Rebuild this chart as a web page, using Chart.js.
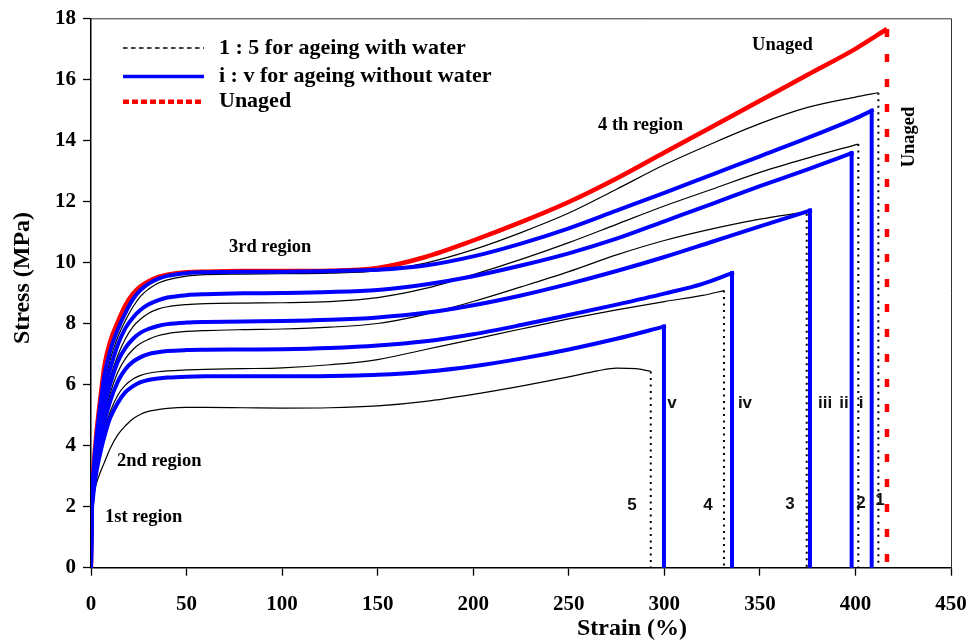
<!DOCTYPE html>
<html>
<head>
<meta charset="utf-8">
<script src="https://cdn.jsdelivr.net/npm/chart.js@4/dist/chart.umd.min.js"></script>
<style>
  html, body { margin: 0; padding: 0; background: #fff; }
  canvas { display: block; }
</style>
</head>
<body>
<canvas id="chart" width="968" height="641"></canvas>
<script>
// Tensile stress-strain curves: strain in %, stress in MPa.
// Each curve ends at its break strain and drops back to zero stress.

// Unaged
const strainUnaged = [0, 0.3, 1, 2, 3, 5, 7, 10, 14, 18, 22, 26, 30, 35, 40, 50, 60, 80, 100, 125, 150, 175, 200, 225, 250, 275, 300, 325, 350, 375, 400, 416.5];
const stressUnaged = [0, 2.0, 3.0, 3.8, 4.5, 5.6, 6.6, 7.4, 8.05, 8.6, 8.98, 9.22, 9.38, 9.52, 9.6, 9.68, 9.7, 9.72, 9.72, 9.73, 9.82, 10.18, 10.72, 11.32, 11.98, 12.75, 13.6, 14.45, 15.3, 16.15, 17.0, 17.65];

// Aged with water (1 to 5)
const strainW1 = [0, 0.3, 1, 2, 3, 5, 7, 10, 14, 18, 22, 26, 30, 35, 40, 50, 60, 80, 100, 125, 150, 175, 200, 225, 250, 275, 300, 325, 350, 375, 400, 412];
const stressW1 = [0, 1.8, 2.75, 3.5, 4.1, 5.1, 5.95, 6.8, 7.55, 8.1, 8.55, 8.9, 9.12, 9.32, 9.43, 9.55, 9.6, 9.62, 9.63, 9.65, 9.72, 9.98, 10.42, 10.98, 11.62, 12.4, 13.2, 13.9, 14.55, 15.08, 15.42, 15.56];

const strainW2 = [0, 0.3, 1, 2, 3, 5, 7, 10, 14, 18, 22, 26, 30, 35, 40, 50, 60, 80, 100, 125, 150, 175, 200, 225, 250, 275, 300, 325, 350, 375, 401.5];
const stressW2 = [0, 1.7, 2.6, 3.25, 3.8, 4.65, 5.4, 6.2, 6.95, 7.5, 7.9, 8.15, 8.33, 8.47, 8.55, 8.62, 8.65, 8.67, 8.68, 8.72, 8.85, 9.15, 9.6, 10.1, 10.65, 11.25, 11.85, 12.4, 12.95, 13.42, 13.88];

const strainW3 = [0, 0.3, 1, 2, 3, 5, 7, 10, 14, 18, 22, 26, 30, 35, 40, 50, 60, 80, 100, 125, 150, 175, 200, 225, 250, 275, 300, 325, 350, 365, 372, 374.5];
const stressW3 = [0, 1.6, 2.45, 3.05, 3.55, 4.3, 4.95, 5.7, 6.4, 6.85, 7.15, 7.35, 7.48, 7.6, 7.67, 7.74, 7.77, 7.8, 7.82, 7.88, 8.0, 8.3, 8.72, 9.2, 9.7, 10.25, 10.72, 11.1, 11.42, 11.57, 11.63, 11.6];

const strainW4 = [0, 0.3, 1, 2, 3, 5, 7, 10, 14, 18, 22, 26, 30, 35, 40, 50, 60, 80, 100, 125, 150, 175, 200, 225, 250, 275, 300, 320, 331.2];
const stressW4 = [0, 1.5, 2.3, 2.85, 3.3, 3.95, 4.5, 5.1, 5.65, 5.98, 6.18, 6.3, 6.37, 6.42, 6.45, 6.48, 6.5, 6.52, 6.55, 6.65, 6.82, 7.15, 7.48, 7.82, 8.15, 8.45, 8.72, 8.92, 9.08];

const strainW5 = [0, 0.3, 1, 2, 3, 5, 7, 10, 14, 18, 22, 26, 30, 35, 40, 50, 60, 80, 100, 125, 150, 175, 200, 225, 250, 265, 275, 285, 292.9];
const stressW5 = [0, 1.4, 2.1, 2.55, 2.8, 3.15, 3.45, 3.9, 4.35, 4.65, 4.88, 5.03, 5.12, 5.18, 5.22, 5.25, 5.25, 5.24, 5.23, 5.24, 5.3, 5.45, 5.68, 5.95, 6.25, 6.45, 6.54, 6.52, 6.43];

// Aged without water (i to v)
const strainD1 = [0, 0.3, 1, 2, 3, 5, 7, 10, 14, 18, 22, 26, 30, 35, 40, 50, 60, 80, 100, 125, 150, 175, 200, 225, 250, 275, 300, 325, 350, 375, 400, 408.5];
const stressD1 = [0, 1.9, 2.9, 3.7, 4.35, 5.4, 6.3, 7.1, 7.8, 8.35, 8.8, 9.1, 9.3, 9.46, 9.56, 9.65, 9.68, 9.7, 9.7, 9.72, 9.76, 9.9, 10.2, 10.62, 11.12, 11.7, 12.28, 12.88, 13.48, 14.08, 14.72, 14.97];

const strainD2 = [0, 0.3, 1, 2, 3, 5, 7, 10, 14, 18, 22, 26, 30, 35, 40, 50, 60, 80, 100, 125, 150, 175, 200, 225, 250, 275, 300, 325, 350, 375, 398];
const stressD2 = [0, 1.8, 2.7, 3.4, 4.0, 4.9, 5.7, 6.5, 7.3, 7.85, 8.2, 8.45, 8.62, 8.76, 8.85, 8.93, 8.96, 8.99, 9.0, 9.03, 9.1, 9.28, 9.55, 9.9, 10.3, 10.78, 11.35, 11.92, 12.5, 13.05, 13.58];

const strainD3 = [0, 0.3, 1, 2, 3, 5, 7, 10, 14, 18, 22, 26, 30, 35, 40, 50, 60, 80, 100, 125, 150, 175, 200, 225, 250, 275, 300, 325, 350, 376.2];
const stressD3 = [0, 1.7, 2.55, 3.2, 3.75, 4.55, 5.25, 6.0, 6.75, 7.2, 7.5, 7.7, 7.82, 7.92, 7.98, 8.03, 8.05, 8.07, 8.08, 8.12, 8.2, 8.35, 8.6, 8.92, 9.3, 9.72, 10.18, 10.68, 11.18, 11.7];

const strainD4 = [0, 0.3, 1, 2, 3, 5, 7, 10, 14, 18, 22, 26, 30, 35, 40, 50, 60, 80, 100, 125, 150, 175, 200, 225, 250, 275, 300, 320, 335.4];
const stressD4 = [0, 1.6, 2.4, 3.0, 3.45, 4.15, 4.75, 5.45, 6.1, 6.5, 6.75, 6.9, 7.0, 7.06, 7.1, 7.13, 7.14, 7.15, 7.16, 7.2, 7.28, 7.42, 7.65, 7.95, 8.28, 8.62, 8.98, 9.3, 9.65];

const strainD5 = [0, 0.3, 1, 2, 3, 5, 7, 10, 14, 18, 22, 26, 30, 35, 40, 50, 60, 80, 100, 125, 150, 175, 200, 225, 250, 275, 299.8];
const stressD5 = [0, 1.5, 2.25, 2.8, 3.2, 3.8, 4.3, 4.9, 5.4, 5.75, 5.95, 6.08, 6.15, 6.2, 6.23, 6.26, 6.27, 6.27, 6.27, 6.28, 6.32, 6.42, 6.6, 6.85, 7.15, 7.5, 7.9];

// Axis ticks
const strainTicks = [0, 50, 100, 150, 200, 250, 300, 350, 400, 450];
const stressTicks = [0, 2, 4, 6, 8, 10, 12, 14, 16, 18];

// Legend entries
const legendTexts = ['1 : 5 for ageing with water', 'i : v for ageing without water', 'Unaged'];

// Text placed in data coordinates (strain %, stress MPa)
const regionNotes = [
  { text: '1st region', x: 7.3, y: 1.66 },
  { text: '2nd region', x: 13.6, y: 3.5 },
  { text: '3rd region', x: 72.2, y: 10.5 },
  { text: '4 th region', x: 265.3, y: 14.5 },
  { text: 'Unaged', x: 345.9, y: 17.13 }
];
const sampleNotes = [
  { text: '5', x: 283.1, y: 2.05 },
  { text: '4', x: 322.9, y: 2.05 },
  { text: '3', x: 365.8, y: 2.08 },
  { text: '2', x: 402.9, y: 2.11 },
  { text: '1', x: 412.9, y: 2.21 },
  { text: 'v', x: 304.0, y: 5.4 },
  { text: 'iv', x: 342.2, y: 5.4 },
  { text: 'iii', x: 384.1, y: 5.4 },
  { text: 'ii', x: 394.0, y: 5.4 },
  { text: 'i', x: 402.9, y: 5.4 }
];

const SERIF = '"Liberation Serif", "Times New Roman", serif';
const SANS = '"Liberation Sans", Arial, sans-serif';

const STYLES = {
  water:  { color: '#000000', width: 1.2, cap: 'butt',   dropWidth: 2,   dropDash: [2, 4.5], legendWidth: 1.3, legendDash: [4.5, 3.5] },
  dry:    { color: '#0000ff', width: 4,   cap: 'square', dropWidth: 4,   dropDash: [],        legendWidth: 3.5, legendDash: [] },
  unaged: { color: '#ff0000', width: 4.5, cap: 'butt',   dropWidth: 4.5, dropDash: [8, 17],   legendWidth: 4.5, legendDash: [6, 3] }
};

function lineDataset(label, data, color, width, dash, cap, smooth) {
  return {
    label,
    data,
    showLine: true,
    fill: false,
    pointRadius: 0,
    pointHoverRadius: 0,
    borderColor: color,
    borderWidth: width,
    borderDash: dash,
    borderCapStyle: cap,
    borderJoinStyle: 'miter',
    cubicInterpolationMode: smooth ? 'monotone' : 'default',
    tension: 0
  };
}

// A curve plus its vertical fracture drop at the break strain
function specimen(label, strain, stress, kind) {
  const st = STYLES[kind];
  const curve = strain.map((x, i) => ({ x, y: stress[i] }));
  const breakStrain = strain[strain.length - 1];
  const breakStress = stress[stress.length - 1];
  const drop = [{ x: breakStrain, y: breakStress }, { x: breakStrain, y: 0 }];
  return [
    lineDataset(label, curve, st.color, st.width, [], st.cap, true),
    lineDataset(label + ' break', drop, st.color, st.dropWidth, st.dropDash, st.cap, false)
  ];
}

// First dataset is drawn on top
const datasets = [
  ...specimen('i', strainD1, stressD1, 'dry'),
  ...specimen('ii', strainD2, stressD2, 'dry'),
  ...specimen('iii', strainD3, stressD3, 'dry'),
  ...specimen('iv', strainD4, stressD4, 'dry'),
  ...specimen('v', strainD5, stressD5, 'dry'),
  ...specimen('1', strainW1, stressW1, 'water'),
  ...specimen('2', strainW2, stressW2, 'water'),
  ...specimen('3', strainW3, stressW3, 'water'),
  ...specimen('4', strainW4, stressW4, 'water'),
  ...specimen('5', strainW5, stressW5, 'water'),
  ...specimen('Unaged', strainUnaged, stressUnaged, 'unaged')
];

const figureText = {
  id: 'figureText',
  beforeDatasetsDraw(chart) {
    const { ctx, chartArea: a } = chart;
    ctx.save();
    ctx.strokeStyle = '#333';
    ctx.lineWidth = 1;
    ctx.beginPath();
    ctx.moveTo(a.left, a.top + 0.5);
    ctx.lineTo(a.right + 0.5, a.top + 0.5);
    ctx.lineTo(a.right + 0.5, a.bottom);
    ctx.stroke();
    ctx.restore();
  },
  afterDatasetsDraw(chart) {
    const { ctx, chartArea: a, scales: { x, y } } = chart;
    ctx.save();
    ctx.fillStyle = '#000';
    ctx.textBaseline = 'middle';

    // legend
    const kinds = ['water', 'dry', 'unaged'];
    const rowY = [29.7, 58.2, 83.4];
    kinds.forEach((k, i) => {
      const st = STYLES[k];
      const yy = a.top + rowY[i];
      ctx.save();
      ctx.strokeStyle = st.color;
      ctx.lineWidth = st.legendWidth;
      ctx.setLineDash(st.legendDash);
      ctx.beginPath();
      ctx.moveTo(a.left + 32, yy);
      ctx.lineTo(a.left + 113, yy);
      ctx.stroke();
      ctx.restore();
      ctx.font = 'bold 22px ' + SERIF;
      ctx.textAlign = 'left';
      ctx.fillText(legendTexts[i], a.left + 128, yy);
    });

    // region notes
    ctx.font = 'bold 18.5px ' + SERIF;
    ctx.textAlign = 'left';
    regionNotes.forEach(n => ctx.fillText(n.text, x.getPixelForValue(n.x), y.getPixelForValue(n.y)));

    // rotated note beside the unaged break line
    ctx.save();
    ctx.translate(x.getPixelForValue(428), y.getPixelForValue(14.11));
    ctx.rotate(-Math.PI / 2);
    ctx.textAlign = 'center';
    ctx.fillText('Unaged', 0, 0);
    ctx.restore();

    // sample numbers
    ctx.font = 'bold 17px ' + SANS;
    ctx.fillStyle = '#111';
    ctx.textAlign = 'center';
    sampleNotes.forEach(n => ctx.fillText(n.text, x.getPixelForValue(n.x), y.getPixelForValue(n.y)));

    // axis titles
    ctx.fillStyle = '#000';
    ctx.font = 'bold 24px ' + SERIF;
    ctx.textAlign = 'center';
    ctx.fillText('Strain (%)', 632, 629);
    ctx.save();
    ctx.translate(23, 278);
    ctx.rotate(-Math.PI / 2);
    ctx.fillText('Stress (MPa)', 0, 0);
    ctx.restore();

    ctx.restore();
  }
};

const tickFont = { family: SERIF, weight: 'bold', size: 21 };

new Chart(document.getElementById('chart'), {
  type: 'scatter',
  data: { datasets },
  plugins: [figureText],
  options: {
    responsive: false,
    animation: false,
    devicePixelRatio: 1,
    layout: { padding: { top: 18.3, right: 17, left: 0, bottom: 0 } },
    plugins: { legend: { display: false }, tooltip: { enabled: false } },
    scales: {
      x: {
        type: 'linear',
        min: 0,
        max: 450,
        afterBuildTicks: s => { s.ticks = strainTicks.map(v => ({ value: v })); },
        ticks: { font: tickFont, color: '#000', padding: 16, maxRotation: 0, autoSkip: false },
        grid: { drawOnChartArea: false, drawTicks: true, tickLength: 8, tickColor: '#000', tickWidth: 1.3 },
        border: { display: true, color: '#000', width: 1.5 },
        afterFit: s => { s.height = 73.3; s.paddingLeft = 0; s.paddingRight = 0; }
      },
      y: {
        type: 'linear',
        min: 0,
        max: 18,
        afterBuildTicks: s => { s.ticks = stressTicks.map(v => ({ value: v })); },
        ticks: { font: tickFont, color: '#000', padding: 7, autoSkip: false },
        grid: { drawOnChartArea: false, drawTicks: true, tickLength: 8, tickColor: '#000', tickWidth: 1.3 },
        border: { display: true, color: '#000', width: 1.5 },
        afterFit: s => { s.width = 91; s.paddingTop = 0; s.paddingBottom = 0; }
      }
    }
  }
});
</script>
</body>
</html>
